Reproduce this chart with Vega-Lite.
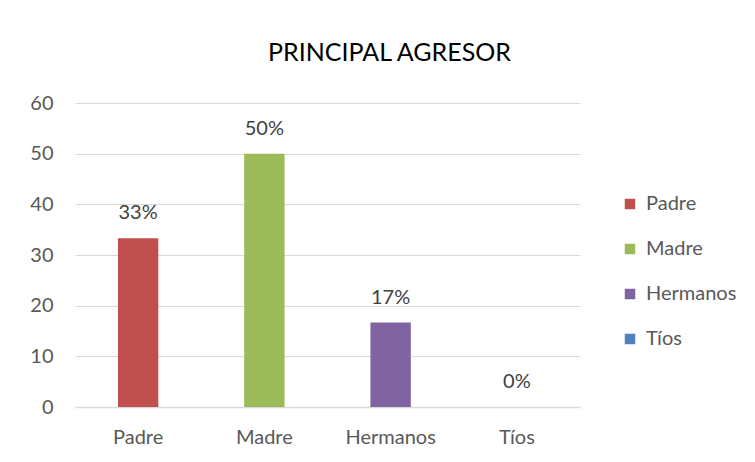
{
  "$schema": "https://vega.github.io/schema/vega-lite/v6.json",
  "width": 505,
  "height": 304,
  "autosize": {"type": "none"},
  "padding": {"left": 75, "top": 103, "right": 175, "bottom": 55},
  "background": "white",
  "config": {
    "font": "Lato",
    "view": {"stroke": null},
    "axis": {"labelColor": "#595959", "labelFont": "Lato", "labelFontSize": 20}
  },
  "title": {
    "text": "PRINCIPAL AGRESOR",
    "fontSize": 25,
    "font": "Lato",
    "fontWeight": "normal",
    "color": "#000000",
    "anchor": "middle",
    "dx": 62,
    "offset": 27
  },
  "data": {
    "values": [
      {"agresor": "Padre", "valor": 33.33, "etiqueta": "33%"},
      {"agresor": "Madre", "valor": 50, "etiqueta": "50%"},
      {"agresor": "Hermanos", "valor": 16.67, "etiqueta": "17%"},
      {"agresor": "Tíos", "valor": 0, "etiqueta": "0%"}
    ]
  },
  "encoding": {
    "x": {
      "field": "agresor",
      "type": "nominal",
      "sort": ["Padre", "Madre", "Hermanos", "Tíos"],
      "scale": {"paddingInner": 0.68, "paddingOuter": 0.34},
      "axis": {
        "title": null,
        "labelAngle": 0,
        "ticks": false,
        "domainColor": "#d9d9d9",
        "domainWidth": 1.5,
        "labelPadding": 20
      }
    },
    "y": {
      "field": "valor",
      "type": "quantitative",
      "scale": {"domain": [0, 60]},
      "axis": {
        "title": null,
        "values": [0, 10, 20, 30, 40, 50, 60],
        "domain": false,
        "ticks": false,
        "gridColor": "#d9d9d9",
        "gridWidth": 1.2,
        "labelPadding": 22
      }
    }
  },
  "layer": [
    {
      "mark": {"type": "bar"},
      "encoding": {
        "color": {
          "field": "agresor",
          "type": "nominal",
          "sort": ["Padre", "Madre", "Hermanos", "Tíos"],
          "scale": {
            "domain": ["Padre", "Madre", "Hermanos", "Tíos"],
            "range": ["#C0504D", "#9BBB59", "#8064A2", "#4F81BD"]
          },
          "legend": {
            "title": null,
            "orient": "none",
            "legendX": 545,
            "legendY": 91,
            "symbolType": "square",
            "symbolSize": 110,
            "symbolStrokeWidth": 0,
            "labelFontSize": 20,
            "labelFont": "Lato",
            "labelColor": "#595959",
            "rowPadding": 25,
            "labelOffset": 6
          }
        }
      }
    },
    {
      "mark": {"type": "text", "baseline": "bottom", "dy": -15, "fontSize": 20, "color": "#404040", "font": "Lato"},
      "encoding": {"text": {"field": "etiqueta"}}
    }
  ]
}
